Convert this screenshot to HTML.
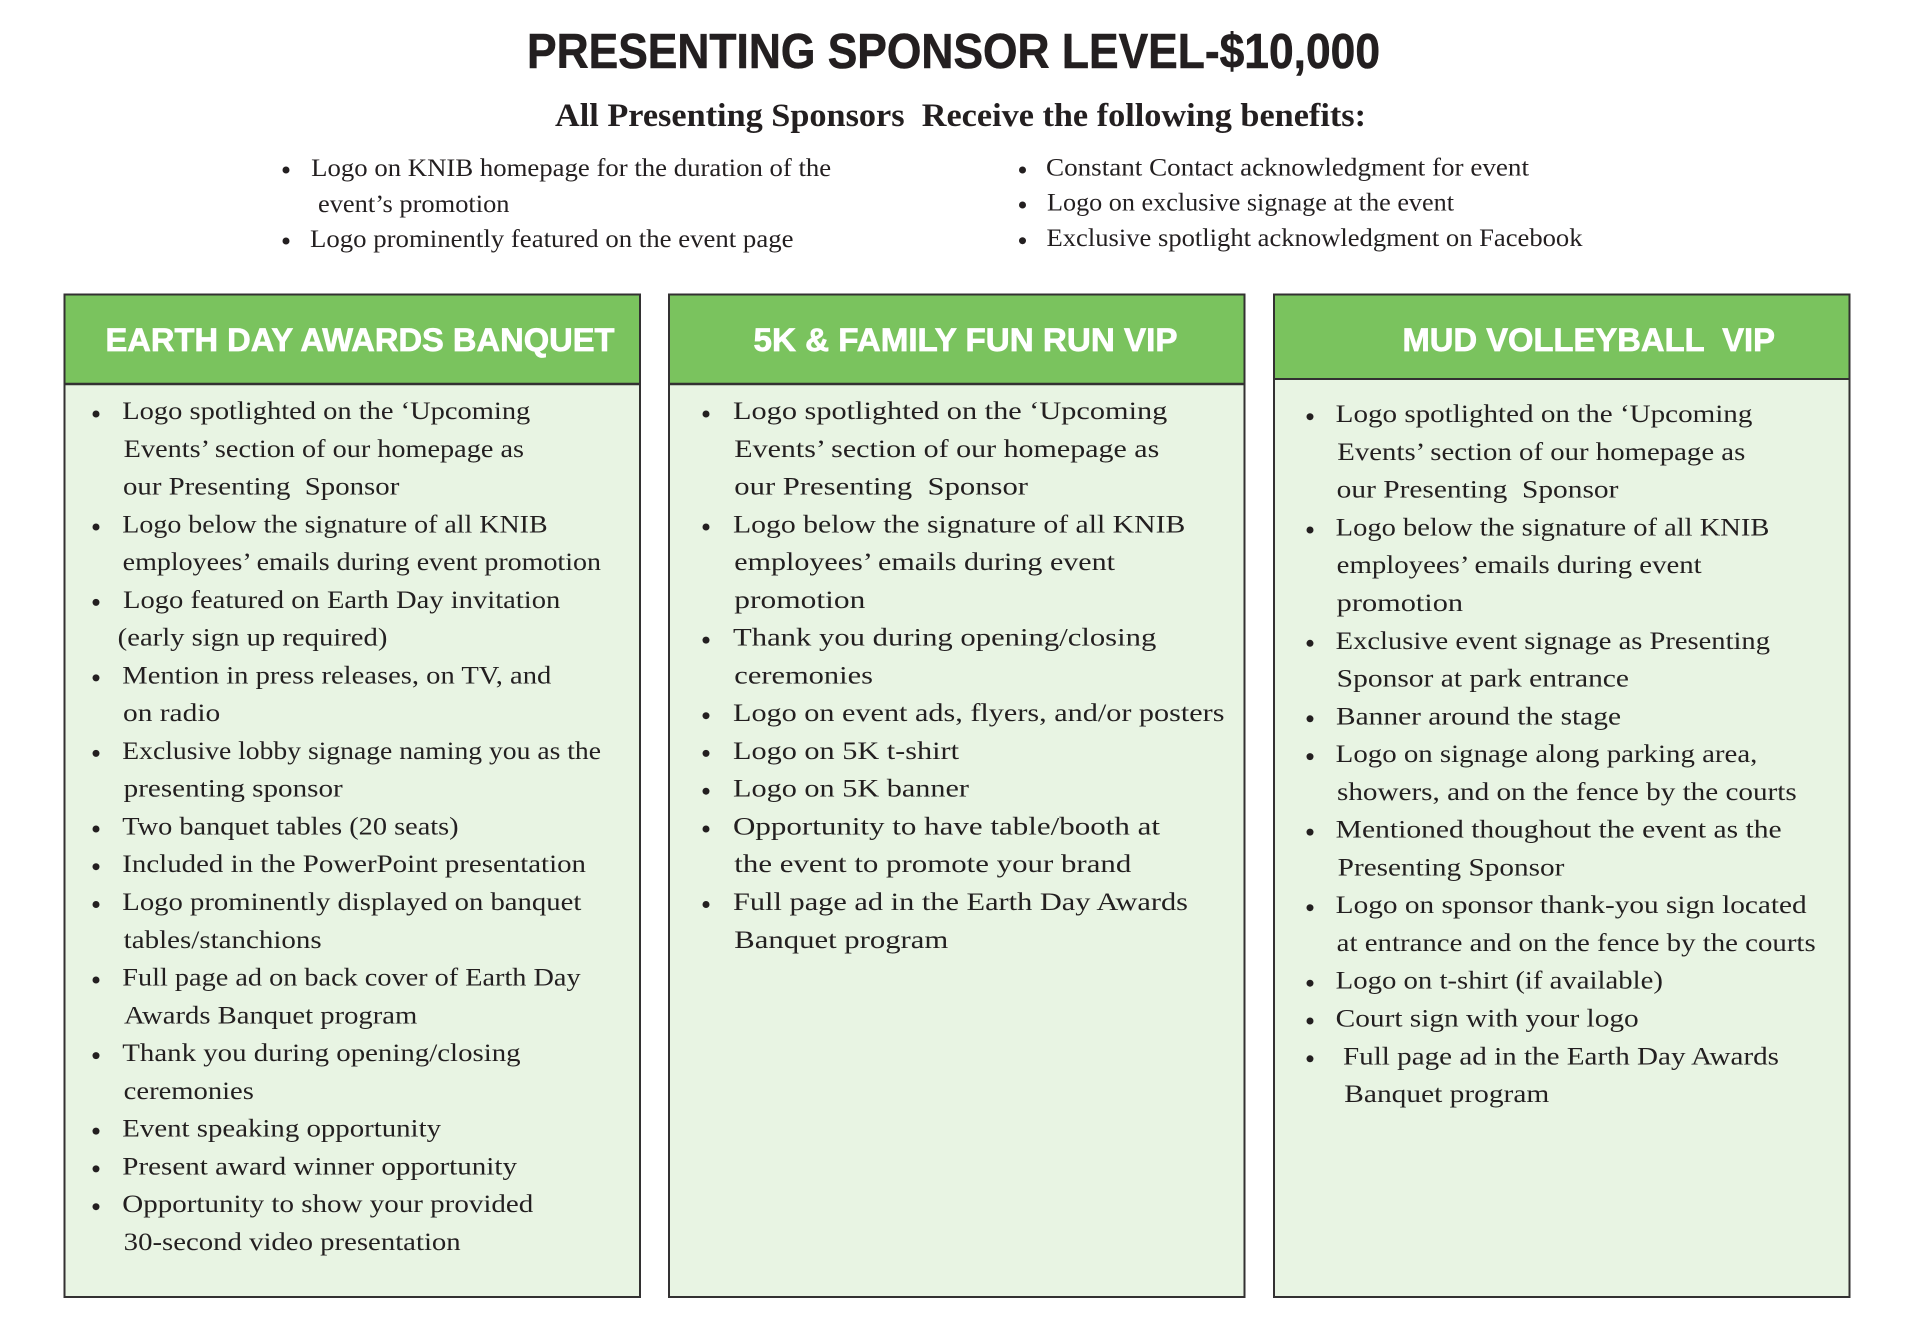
<!DOCTYPE html>
<html lang="en">
<head>
<meta charset="utf-8">
<title>Presenting Sponsor Level</title>
<style>
html,body{margin:0;padding:0;background:#fff;width:1920px;height:1331px;overflow:hidden}
svg{display:block}
text{white-space:pre;fill:#231f20}
.t{font-family:"Liberation Serif",serif;font-size:25px;font-variant-ligatures:none}
.h{font-family:"Liberation Sans",sans-serif;font-weight:700;font-size:32.5px;fill:#fff;stroke:#fff;stroke-width:.7px}
.m{font-family:"Liberation Sans",sans-serif;font-weight:700;font-size:49px;stroke:#231f20;stroke-width:.6px}
.s{font-family:"Liberation Serif",serif;font-weight:700;font-size:33px}
circle{fill:#231f20}
g.c text{transform:translate(-1px,-.5px)}
</style>
</head>
<body>
<svg width="1920" height="1331" viewBox="0 0 1920 1331" xmlns="http://www.w3.org/2000/svg">
<rect width="1920" height="1331" fill="#fff"/>

<text class="m" x="527" y="68" textLength="853" lengthAdjust="spacingAndGlyphs">PRESENTING SPONSOR LEVEL-$10,000</text>
<text class="s" x="555" y="126" textLength="811" lengthAdjust="spacingAndGlyphs">All Presenting Sponsors  Receive the following benefits:</text>

<circle cx="286" cy="170" r="3.5"/>
<text class="t" x="311.2" y="176" textLength="520" lengthAdjust="spacingAndGlyphs">Logo on KNIB homepage for the duration of the</text>
<text class="t" x="318" y="212" textLength="191.5" lengthAdjust="spacingAndGlyphs">event’s promotion</text>
<circle cx="286" cy="241" r="3.5"/>
<text class="t" x="310" y="247" textLength="483.5" lengthAdjust="spacingAndGlyphs">Logo prominently featured on the event page</text>

<circle cx="1022.5" cy="170" r="3.5"/>
<text class="t" x="1046" y="175.7" textLength="483" lengthAdjust="spacingAndGlyphs">Constant Contact acknowledgment for event</text>
<circle cx="1022.5" cy="205" r="3.5"/>
<text class="t" x="1047" y="210.7" textLength="407" lengthAdjust="spacingAndGlyphs">Logo on exclusive signage at the event</text>
<circle cx="1022.5" cy="240.7" r="3.5"/>
<text class="t" x="1046.5" y="246" textLength="536" lengthAdjust="spacingAndGlyphs">Exclusive spotlight acknowledgment on Facebook</text>

<!-- Column 1 -->
<rect x="64.5" y="294.5" width="576" height="90" fill="#7ac35e"/>
<rect x="64.5" y="384" width="576" height="913" fill="#e8f4e3"/>
<rect x="64.5" y="294.5" width="575.5" height="1002.5" fill="none" stroke="#333132" stroke-width="2"/>
<line x1="64.5" y1="384" x2="640" y2="384" stroke="#333132" stroke-width="2.5"/>
<text class="h" x="105.5" y="351" textLength="509" lengthAdjust="spacingAndGlyphs">EARTH DAY AWARDS BANQUET</text>

<g class="c">
<circle cx="96" cy="414" r="3.5"/>
<text class="t" x="123.3" y="419.5" textLength="408" lengthAdjust="spacingAndGlyphs">Logo spotlighted on the ‘Upcoming</text>
<text class="t" x="124.7" y="457.3" textLength="400.3" lengthAdjust="spacingAndGlyphs">Events’ section of our homepage as</text>
<text class="t" x="124" y="495" textLength="276.3" lengthAdjust="spacingAndGlyphs">our Presenting  Sponsor</text>
<circle cx="96" cy="527" r="3.5"/>
<text class="t" x="123.3" y="532.8" textLength="425.3" lengthAdjust="spacingAndGlyphs">Logo below the signature of all KNIB</text>
<text class="t" x="123.7" y="570.6" textLength="478.3" lengthAdjust="spacingAndGlyphs">employees’ emails during event promotion</text>
<circle cx="96" cy="602.4" r="3.5"/>
<text class="t" x="124" y="608.4" textLength="437.3" lengthAdjust="spacingAndGlyphs">Logo featured on Earth Day invitation</text>
<text class="t" x="118.7" y="646.1" textLength="269.7" lengthAdjust="spacingAndGlyphs">(early sign up required)</text>
<circle cx="96" cy="677.9" r="3.5"/>
<text class="t" x="123.3" y="683.9" textLength="429" lengthAdjust="spacingAndGlyphs">Mention in press releases, on TV, and</text>
<text class="t" x="124" y="721.7" textLength="97.2" lengthAdjust="spacingAndGlyphs">on radio</text>
<circle cx="96" cy="753.4" r="3.5"/>
<text class="t" x="123.3" y="759.4" textLength="478.7" lengthAdjust="spacingAndGlyphs">Exclusive lobby signage naming you as the</text>
<text class="t" x="124.7" y="797.2" textLength="219" lengthAdjust="spacingAndGlyphs">presenting sponsor</text>
<circle cx="96" cy="829" r="3.5"/>
<text class="t" x="123.3" y="835" textLength="336.3" lengthAdjust="spacingAndGlyphs">Two banquet tables (20 seats)</text>
<circle cx="96" cy="866.7" r="3.5"/>
<text class="t" x="123.3" y="872.7" textLength="463.7" lengthAdjust="spacingAndGlyphs">Included in the PowerPoint presentation</text>
<circle cx="96" cy="904.5" r="3.5"/>
<text class="t" x="123.3" y="910.5" textLength="459" lengthAdjust="spacingAndGlyphs">Logo prominently displayed on banquet</text>
<text class="t" x="124.7" y="948.3" textLength="198" lengthAdjust="spacingAndGlyphs">tables/stanchions</text>
<circle cx="96" cy="980" r="3.5"/>
<text class="t" x="123.3" y="986" textLength="458.3" lengthAdjust="spacingAndGlyphs">Full page ad on back cover of Earth Day</text>
<text class="t" x="125" y="1023.8" textLength="293.3" lengthAdjust="spacingAndGlyphs">Awards Banquet program</text>
<circle cx="96" cy="1055.6" r="3.5"/>
<text class="t" x="123.3" y="1061.6" textLength="398.3" lengthAdjust="spacingAndGlyphs">Thank you during opening/closing</text>
<text class="t" x="124.7" y="1099.4" textLength="130.2" lengthAdjust="spacingAndGlyphs">ceremonies</text>
<circle cx="96" cy="1131.1" r="3.5"/>
<text class="t" x="123.3" y="1137.1" textLength="318.7" lengthAdjust="spacingAndGlyphs">Event speaking opportunity</text>
<circle cx="96" cy="1168.9" r="3.5"/>
<text class="t" x="123.3" y="1174.9" textLength="394.7" lengthAdjust="spacingAndGlyphs">Present award winner opportunity</text>
<circle cx="96" cy="1206.7" r="3.5"/>
<text class="t" x="123.3" y="1212.7" textLength="411" lengthAdjust="spacingAndGlyphs">Opportunity to show your provided</text>
<text class="t" x="124.7" y="1250.4" textLength="337" lengthAdjust="spacingAndGlyphs">30-second video presentation</text>
</g>

<!-- Column 2 -->
<rect x="669" y="294.5" width="575.5" height="90" fill="#7ac35e"/>
<rect x="669" y="384" width="575.5" height="913" fill="#e8f4e3"/>
<rect x="669" y="294.5" width="575.5" height="1002.5" fill="none" stroke="#333132" stroke-width="2"/>
<line x1="669" y1="384" x2="1244.5" y2="384" stroke="#333132" stroke-width="2.5"/>
<text class="h" x="753.5" y="351" textLength="424" lengthAdjust="spacingAndGlyphs">5K &amp; FAMILY FUN RUN VIP</text>

<g class="c">
<circle cx="706" cy="414" r="3.5"/>
<text class="t" x="734" y="419.5" textLength="434.3" lengthAdjust="spacingAndGlyphs">Logo spotlighted on the ‘Upcoming</text>
<text class="t" x="735.3" y="457.3" textLength="425" lengthAdjust="spacingAndGlyphs">Events’ section of our homepage as</text>
<text class="t" x="735.3" y="495" textLength="293.7" lengthAdjust="spacingAndGlyphs">our Presenting  Sponsor</text>
<circle cx="706" cy="527" r="3.5"/>
<text class="t" x="734" y="532.8" textLength="452.3" lengthAdjust="spacingAndGlyphs">Logo below the signature of all KNIB</text>
<text class="t" x="735.3" y="570.6" textLength="380.7" lengthAdjust="spacingAndGlyphs">employees’ emails during event</text>
<text class="t" x="735.3" y="608.4" textLength="131" lengthAdjust="spacingAndGlyphs">promotion</text>
<circle cx="706" cy="640.1" r="3.5"/>
<text class="t" x="734" y="646.1" textLength="423.3" lengthAdjust="spacingAndGlyphs">Thank you during opening/closing</text>
<text class="t" x="735.3" y="683.9" textLength="138.7" lengthAdjust="spacingAndGlyphs">ceremonies</text>
<circle cx="706" cy="715.7" r="3.5"/>
<text class="t" x="734" y="721.7" textLength="491.5" lengthAdjust="spacingAndGlyphs">Logo on event ads, flyers, and/or posters</text>
<circle cx="706" cy="753.4" r="3.5"/>
<text class="t" x="734" y="759.4" textLength="226" lengthAdjust="spacingAndGlyphs">Logo on 5K t-shirt</text>
<circle cx="706" cy="791.2" r="3.5"/>
<text class="t" x="734" y="797.2" textLength="236" lengthAdjust="spacingAndGlyphs">Logo on 5K banner</text>
<circle cx="706" cy="829" r="3.5"/>
<text class="t" x="734" y="835" textLength="427" lengthAdjust="spacingAndGlyphs">Opportunity to have table/booth at</text>
<text class="t" x="735.3" y="872.7" textLength="397" lengthAdjust="spacingAndGlyphs">the event to promote your brand</text>
<circle cx="706" cy="904.5" r="3.5"/>
<text class="t" x="734" y="910.5" textLength="455" lengthAdjust="spacingAndGlyphs">Full page ad in the Earth Day Awards</text>
<text class="t" x="735.3" y="948.3" textLength="214" lengthAdjust="spacingAndGlyphs">Banquet program</text>
</g>

<!-- Column 3 -->
<rect x="1274" y="294.5" width="575.5" height="85" fill="#7ac35e"/>
<rect x="1274" y="379" width="575.5" height="918" fill="#e8f4e3"/>
<rect x="1274" y="294.5" width="575.5" height="1002.5" fill="none" stroke="#333132" stroke-width="2"/>
<line x1="1274" y1="379" x2="1849.5" y2="379" stroke="#333132" stroke-width="2"/>
<text class="h" x="1402.5" y="351" textLength="372.5" lengthAdjust="spacingAndGlyphs">MUD VOLLEYBALL  VIP</text>

<g class="c">
<circle cx="1310" cy="416.7" r="3.5"/>
<text class="t" x="1336.7" y="422.7" textLength="416.7" lengthAdjust="spacingAndGlyphs">Logo spotlighted on the ‘Upcoming</text>
<text class="t" x="1338.3" y="460.5" textLength="408" lengthAdjust="spacingAndGlyphs">Events’ section of our homepage as</text>
<text class="t" x="1337.7" y="498.2" textLength="281.7" lengthAdjust="spacingAndGlyphs">our Presenting  Sponsor</text>
<circle cx="1310" cy="530" r="3.5"/>
<text class="t" x="1336.7" y="536" textLength="433.7" lengthAdjust="spacingAndGlyphs">Logo below the signature of all KNIB</text>
<text class="t" x="1337.7" y="573.7" textLength="365" lengthAdjust="spacingAndGlyphs">employees’ emails during event</text>
<text class="t" x="1337.7" y="611.5" textLength="126.4" lengthAdjust="spacingAndGlyphs">promotion</text>
<circle cx="1310" cy="643.3" r="3.5"/>
<text class="t" x="1336.7" y="649.3" textLength="434.3" lengthAdjust="spacingAndGlyphs">Exclusive event signage as Presenting</text>
<text class="t" x="1337.7" y="687" textLength="292.3" lengthAdjust="spacingAndGlyphs">Sponsor at park entrance</text>
<circle cx="1310" cy="718.8" r="3.5"/>
<text class="t" x="1337" y="724.8" textLength="285" lengthAdjust="spacingAndGlyphs">Banner around the stage</text>
<circle cx="1310" cy="756.6" r="3.5"/>
<text class="t" x="1336.7" y="762.6" textLength="421.7" lengthAdjust="spacingAndGlyphs">Logo on signage along parking area,</text>
<text class="t" x="1338" y="800.3" textLength="459.7" lengthAdjust="spacingAndGlyphs">showers, and on the fence by the courts</text>
<circle cx="1310" cy="832.1" r="3.5"/>
<text class="t" x="1336.7" y="838.1" textLength="446" lengthAdjust="spacingAndGlyphs">Mentioned thoughout the event as the</text>
<text class="t" x="1338.7" y="875.9" textLength="226.7" lengthAdjust="spacingAndGlyphs">Presenting Sponsor</text>
<circle cx="1310" cy="907.7" r="3.5"/>
<text class="t" x="1336.7" y="913.7" textLength="471" lengthAdjust="spacingAndGlyphs">Logo on sponsor thank-you sign located</text>
<text class="t" x="1337.7" y="951.4" textLength="479" lengthAdjust="spacingAndGlyphs">at entrance and on the fence by the courts</text>
<circle cx="1310" cy="983.2" r="3.5"/>
<text class="t" x="1336.7" y="989.2" textLength="327.3" lengthAdjust="spacingAndGlyphs">Logo on t-shirt (if available)</text>
<circle cx="1310" cy="1021" r="3.5"/>
<text class="t" x="1336.7" y="1027" textLength="303" lengthAdjust="spacingAndGlyphs">Court sign with your logo</text>
<circle cx="1310" cy="1058.8" r="3.5"/>
<text class="t" x="1344" y="1064.8" textLength="436" lengthAdjust="spacingAndGlyphs">Full page ad in the Earth Day Awards</text>
<text class="t" x="1345.3" y="1102.3" textLength="205" lengthAdjust="spacingAndGlyphs">Banquet program</text>
</g>
</svg>
</body>
</html>
